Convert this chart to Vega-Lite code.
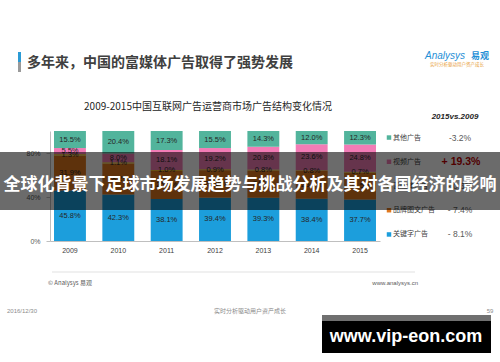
{
  "$schema": "https://vega.github.io/schema/vega-lite/v6.json",
  "width": 330,
  "height": 110,
  "autosize": {"type": "none"},
  "padding": {"left": 50, "top": 131, "right": 120, "bottom": 121},
  "background": "white",
  "config": {"view": {"stroke": null}, "font": "Noto Sans CJK SC"},
  "datasets": {
    "shares": [
      {"year": "2009", "series": "关键字广告", "rank": 1, "share": 0.458},
      {"year": "2009", "series": "品牌图文广告", "rank": 2, "share": 0.319},
      {"year": "2009", "series": "富媒体广告", "rank": 3, "share": 0.013},
      {"year": "2009", "series": "视频广告", "rank": 4, "share": 0.055},
      {"year": "2009", "series": "其他广告", "rank": 5, "share": 0.155},
      {"year": "2010", "series": "关键字广告", "rank": 1, "share": 0.423},
      {"year": "2010", "series": "品牌图文广告", "rank": 2, "share": 0.282},
      {"year": "2010", "series": "富媒体广告", "rank": 3, "share": 0.011},
      {"year": "2010", "series": "视频广告", "rank": 4, "share": 0.080},
      {"year": "2010", "series": "其他广告", "rank": 5, "share": 0.204},
      {"year": "2011", "series": "关键字广告", "rank": 1, "share": 0.381},
      {"year": "2011", "series": "品牌图文广告", "rank": 2, "share": 0.255},
      {"year": "2011", "series": "富媒体广告", "rank": 3, "share": 0.010},
      {"year": "2011", "series": "视频广告", "rank": 4, "share": 0.181},
      {"year": "2011", "series": "其他广告", "rank": 5, "share": 0.173},
      {"year": "2012", "series": "关键字广告", "rank": 1, "share": 0.394},
      {"year": "2012", "series": "品牌图文广告", "rank": 2, "share": 0.250},
      {"year": "2012", "series": "富媒体广告", "rank": 3, "share": 0.009},
      {"year": "2012", "series": "视频广告", "rank": 4, "share": 0.192},
      {"year": "2012", "series": "其他广告", "rank": 5, "share": 0.155},
      {"year": "2013", "series": "关键字广告", "rank": 1, "share": 0.393},
      {"year": "2013", "series": "品牌图文广告", "rank": 2, "share": 0.248},
      {"year": "2013", "series": "富媒体广告", "rank": 3, "share": 0.008},
      {"year": "2013", "series": "视频广告", "rank": 4, "share": 0.208},
      {"year": "2013", "series": "其他广告", "rank": 5, "share": 0.143},
      {"year": "2014", "series": "关键字广告", "rank": 1, "share": 0.384},
      {"year": "2014", "series": "品牌图文广告", "rank": 2, "share": 0.252},
      {"year": "2014", "series": "富媒体广告", "rank": 3, "share": 0.008},
      {"year": "2014", "series": "视频广告", "rank": 4, "share": 0.236},
      {"year": "2014", "series": "其他广告", "rank": 5, "share": 0.120},
      {"year": "2015", "series": "关键字广告", "rank": 1, "share": 0.377},
      {"year": "2015", "series": "品牌图文广告", "rank": 2, "share": 0.245},
      {"year": "2015", "series": "富媒体广告", "rank": 3, "share": 0.007},
      {"year": "2015", "series": "视频广告", "rank": 4, "share": 0.248},
      {"year": "2015", "series": "其他广告", "rank": 5, "share": 0.123}
    ],
    "change": [
      {"series": "其他广告", "label": "-3.2%"},
      {"series": "视频广告", "label": "+ 19.3%"},
      {"series": "富媒体广告", "label": "- 0.6%"},
      {"series": "品牌图文广告", "label": "- 7.4%"},
      {"series": "关键字广告", "label": "- 8.1%"}
    ]
  },
  "resolve": {"scale": {"y": "independent"}},
  "layer": [
    {
      "data": {"name": "shares"},
      "encoding": {
        "x": {
          "field": "year", "type": "nominal",
          "scale": {"paddingInner": 0.34, "paddingOuter": 0.083},
          "axis": {"title": null, "labelAngle": 0, "domainColor": "#bfbfbf", "ticks": false, "labelFontSize": 7, "labelColor": "#404040", "labelPadding": 5, "labelFont": "Liberation Sans"}
        },
        "order": {"field": "rank", "type": "quantitative", "sort": "ascending"}
      },
      "layer": [
        {
          "mark": {"type": "bar"},
          "encoding": {
            "y": {
              "field": "share", "type": "quantitative", "stack": "zero",
              "scale": {"domain": [0, 1], "nice": false},
              "axis": {"title": null, "format": "%", "values": [0, 0.2, 0.4, 0.6, 0.8, 1], "grid": false, "domainColor": "#bfbfbf", "tickColor": "#bfbfbf", "tickSize": 4, "labelPadding": 6, "labelFontSize": 7, "labelColor": "#595959", "labelFont": "Liberation Sans"}
            },
            "color": {
              "field": "series", "type": "nominal",
              "scale": {"domain": ["其他广告", "视频广告", "富媒体广告", "品牌图文广告", "关键字广告"], "range": ["#52B49C", "#F27CB6", "#F2C12E", "#E0781E", "#1C9EDC"]},
              "legend": null
            }
          }
        },
        {
          "mark": {"type": "text", "fontSize": 7.5, "color": "#262626", "font": "Liberation Sans", "baseline": "middle"},
          "encoding": {
            "y": {"field": "share", "type": "quantitative", "stack": "zero", "bandPosition": 0.5},
            "text": {"field": "share", "type": "quantitative", "format": ".1%"}
          }
        }
      ]
    },
    {
      "data": {"name": "change"},
      "encoding": {
        "y": {
          "field": "series", "type": "nominal",
          "scale": {"type": "point", "domain": ["其他广告", "视频广告", "富媒体广告", "品牌图文广告", "关键字广告"], "padding": 0.27},
          "axis": null
        }
      },
      "layer": [
        {
          "mark": {"type": "square", "filled": true, "size": 20, "opacity": 1},
          "encoding": {
            "x": {"value": 339},
            "color": {"field": "series", "type": "nominal", "legend": null}
          }
        },
        {
          "mark": {"type": "text", "align": "left", "baseline": "middle", "fontSize": 7, "color": "#404040"},
          "encoding": {"x": {"value": 343}, "text": {"field": "series"}}
        },
        {
          "transform": [{"filter": "datum.series !== '视频广告'"}],
          "mark": {"type": "text", "align": "center", "baseline": "middle", "fontSize": 8.5, "color": "#595959", "font": "Liberation Sans"},
          "encoding": {"x": {"value": 410}, "text": {"field": "label"}}
        },
        {
          "transform": [{"filter": "datum.series === '视频广告'"}],
          "mark": {"type": "text", "align": "center", "baseline": "middle", "fontSize": 10.5, "fontWeight": "bold", "color": "#C00000", "font": "Liberation Sans"},
          "encoding": {"x": {"value": 411}, "text": {"field": "label"}}
        }
      ]
    },
    {
      "data": {"values": [{}]},
      "mark": {"type": "text", "text": "2015vs.2009", "align": "center", "baseline": "middle", "fontSize": 8, "fontWeight": "bold", "fontStyle": "italic", "color": "#262626", "font": "Liberation Sans"},
      "encoding": {"x": {"value": 405}, "y": {"value": -14}}
    },
    {
      "data": {"values": [{}]},
      "mark": {"type": "text", "text": "2009-2015中国互联网广告运营商市场广告结构变化情况", "align": "center", "baseline": "middle", "fontSize": 10, "color": "#262626"},
      "encoding": {"x": {"value": 158}, "y": {"value": -24}}
    },
    {
      "data": {"values": [{}]},
      "mark": {"type": "rect", "color": "#2B9BD5"},
      "encoding": {"x": {"value": -32}, "x2": {"value": -29}, "y": {"value": -79}, "y2": {"value": -69}}
    },
    {
      "data": {"values": [{}]},
      "mark": {"type": "rect", "color": "#9a9a9a"},
      "encoding": {"x": {"value": -32}, "x2": {"value": -29}, "y": {"value": -69}, "y2": {"value": -59}}
    },
    {
      "data": {"values": [{}]},
      "mark": {"type": "text", "text": "多年来，中国的富媒体广告取得了强势发展", "align": "left", "baseline": "middle", "fontSize": 14, "fontWeight": "bold", "color": "#404040"},
      "encoding": {"x": {"value": -23}, "y": {"value": -68}}
    },
    {
      "data": {"values": [{}]},
      "mark": {"type": "text", "text": "Analysys", "align": "left", "baseline": "middle", "fontSize": 10, "fontStyle": "italic", "color": "#1F8FD6", "font": "Liberation Sans"},
      "encoding": {"x": {"value": 375}, "y": {"value": -75}}
    },
    {
      "data": {"values": [{}]},
      "mark": {"type": "text", "text": "易观", "align": "left", "baseline": "middle", "fontSize": 9, "fontWeight": "bold", "color": "#1F8FD6"},
      "encoding": {"x": {"value": 421}, "y": {"value": -75}}
    },
    {
      "data": {"values": [{}]},
      "mark": {"type": "text", "text": "实时分析驱动用户资产成长", "align": "center", "baseline": "middle", "fontSize": 4.5, "color": "#E8A040"},
      "encoding": {"x": {"value": 407}, "y": {"value": -66}}
    },
    {
      "data": {"values": [{}]},
      "mark": {"type": "rule", "color": "#d9d9d9", "strokeWidth": 0.8},
      "encoding": {"x": {"value": 2}, "x2": {"value": 365}, "y": {"value": 141}}
    },
    {
      "data": {"values": [{}]},
      "mark": {"type": "text", "text": "© Analysys 易观", "align": "left", "baseline": "middle", "fontSize": 6, "color": "#595959"},
      "encoding": {"x": {"value": -2}, "y": {"value": 152}}
    },
    {
      "data": {"values": [{}]},
      "mark": {"type": "text", "text": "www.analysys.cn", "align": "right", "baseline": "middle", "fontSize": 6, "color": "#595959", "font": "Liberation Sans"},
      "encoding": {"x": {"value": 368}, "y": {"value": 152}}
    },
    {
      "data": {"values": [{}]},
      "mark": {"type": "text", "text": "2016/12/30", "align": "left", "baseline": "middle", "fontSize": 6, "color": "#8c8c8c", "font": "Liberation Sans"},
      "encoding": {"x": {"value": -43}, "y": {"value": 180}}
    },
    {
      "data": {"values": [{}]},
      "mark": {"type": "text", "text": "实时分析驱动用户资产成长", "align": "center", "baseline": "middle", "fontSize": 6, "color": "#8c8c8c"},
      "encoding": {"x": {"value": 200}, "y": {"value": 180}}
    },
    {
      "data": {"values": [{}]},
      "mark": {"type": "text", "text": "59", "align": "center", "baseline": "middle", "fontSize": 6, "color": "#8c8c8c", "font": "Liberation Sans"},
      "encoding": {"x": {"value": 440}, "y": {"value": 180}}
    },
    {
      "data": {"values": [{}]},
      "mark": {"type": "rect", "color": "#000000", "opacity": 0.58},
      "encoding": {"x": {"value": -50}, "x2": {"value": 450}, "y": {"value": 21}, "y2": {"value": 79}}
    },
    {
      "data": {"values": [{}]},
      "mark": {"type": "text", "text": "全球化背景下足球市场发展趋势与挑战分析及其对各国经济的影响", "align": "center", "baseline": "middle", "fontSize": 17, "fontWeight": "bold", "color": "#ffffff"},
      "encoding": {"x": {"value": 200}, "y": {"value": 54}}
    },
    {
      "data": {"values": [{}]},
      "mark": {"type": "rect", "color": "#707070"},
      "encoding": {"x": {"value": 272}, "x2": {"value": 441}, "y": {"value": 184}, "y2": {"value": 190}}
    },
    {
      "data": {"values": [{}]},
      "mark": {"type": "rect", "color": "#000000"},
      "encoding": {"x": {"value": 272}, "x2": {"value": 441}, "y": {"value": 190}, "y2": {"value": 222}}
    },
    {
      "data": {"values": [{}]},
      "mark": {"type": "text", "text": "www.vip-eon.com", "align": "center", "baseline": "middle", "fontSize": 18, "fontWeight": "bold", "color": "#ffffff", "font": "Liberation Sans"},
      "encoding": {"x": {"value": 356}, "y": {"value": 206}}
    }
  ]
}
